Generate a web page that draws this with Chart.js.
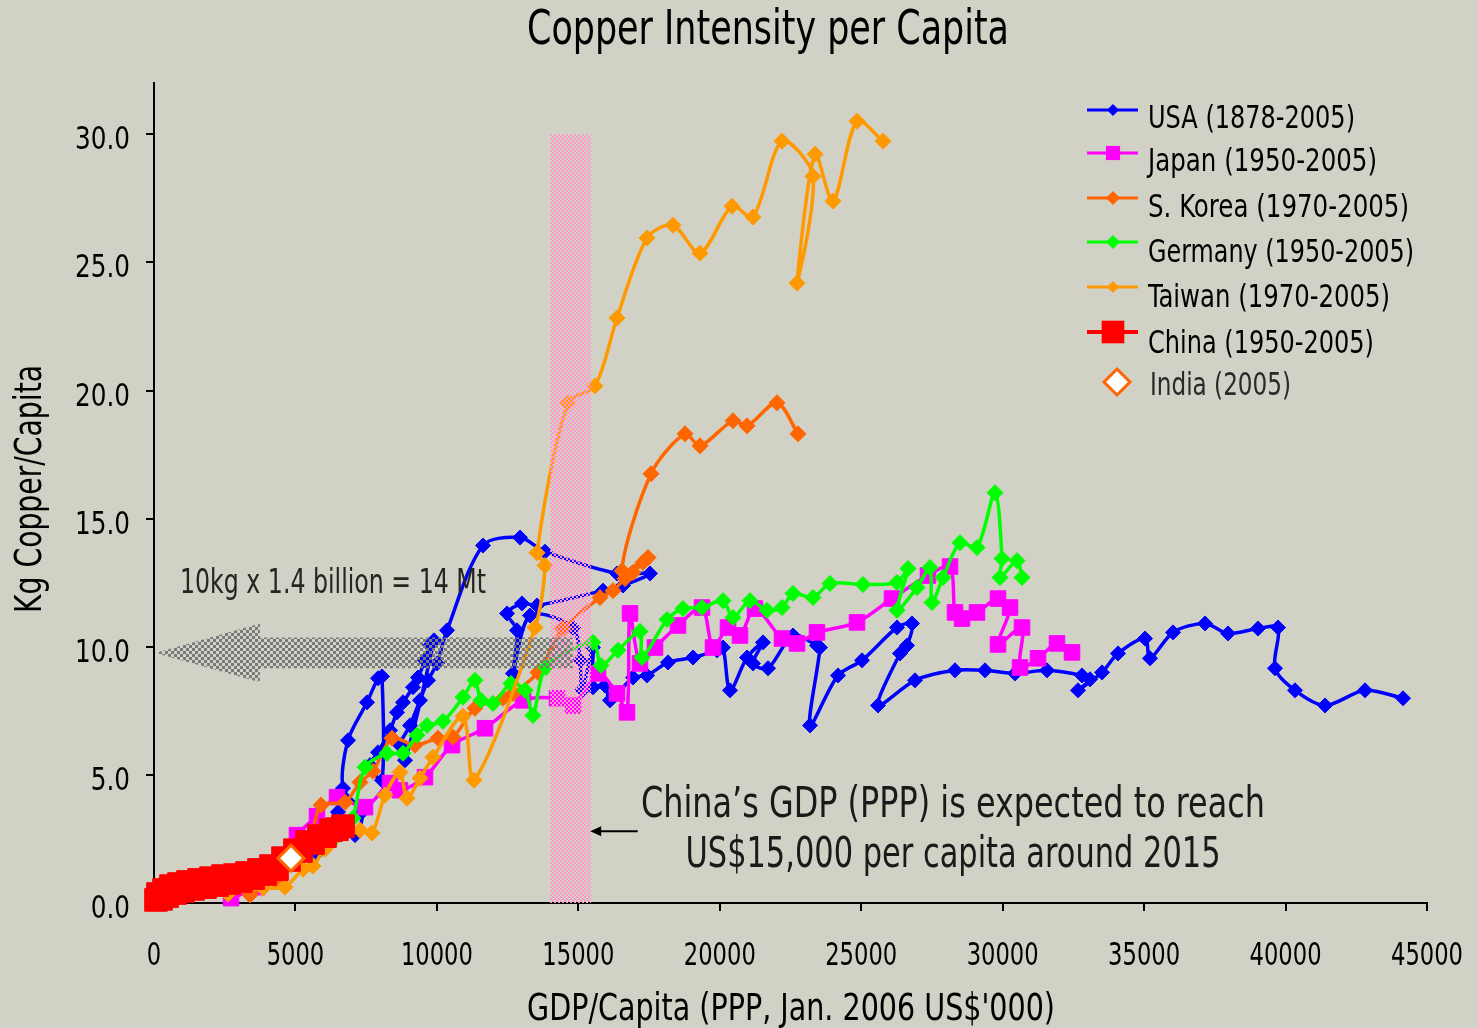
<!DOCTYPE html>
<html><head><meta charset="utf-8">
<script src="https://cdn.jsdelivr.net/npm/chart.js@4.4.1/dist/chart.umd.min.js"></script>
<style>html,body{margin:0;padding:0;background:#D2D1C6;overflow:hidden}canvas{display:block}</style>
</head><body>
<canvas id="c" width="1478" height="1028" style="width:1478px;height:1028px"></canvas>
<script>
// ---------- DATA ----------
const xTicks = [0,5000,10000,15000,20000,25000,30000,35000,40000,45000];
const yTicks = [0,5,10,15,20,25,30];
const seriesNames = ['USA (1878-2005)','Japan (1950-2005)','S. Korea (1970-2005)','Germany (1950-2005)','Taiwan (1970-2005)','China (1950-2005)','India (2005)'];

const usaX = [5762,6504,7105,7353,6681,6858,7530,7918,8060,8060,7636,7918,8343,8590,8802,9156,9332,9580,9757,9898,8873,8696,9050,9403,9686,10004,10358,11630,12938,13822,16367,17534,16579,15872,13539,13009,12479,12832,12691,13292,14812,15059,15130,15519,15519,15943,16120,16933,17428,18170,19054,19902,20114,20362,20963,21528,21175,21705,22589,23437,23543,23190,24179,25028,26265,26795,26618,26371,25593,26901,28315,29376,30436,31568,32805,33088,32663,33512,34077,35032,35209,36022,37153,37966,39026,39733,39627,40334,41395,42809,44152];
const usaY = [1.95,3.55,2.65,3.55,4.48,6.35,7.83,8.77,8.84,4.79,5.38,5.88,6.74,7.44,7.83,8.42,8.80,9.47,10.05,10.25,5.57,6.16,6.93,7.91,8.69,9.35,10.64,13.95,14.26,13.71,12.86,12.86,12.39,12.19,11.61,11.69,11.30,10.64,8.96,11.22,10.75,9.47,8.30,9.97,8.42,8.49,7.91,8.80,8.88,9.39,9.58,9.86,9.97,8.30,9.58,10.17,9.35,9.16,10.44,10.05,9.97,6.93,8.88,9.47,10.75,10.91,10.05,9.74,7.71,8.69,9.08,9.08,8.96,9.08,8.88,8.73,8.30,9.00,9.74,10.32,9.55,10.56,10.91,10.52,10.71,10.75,9.16,8.30,7.71,8.30,7.99];

const japanX = [2722,3641,4454,5055,5762,6469,7459,8343,8696,9580,10534,11701,13044,14246,14812,15695,16367,16721,16827,17180,17710,18523,19372,19761,20291,20715,21245,22200,22730,23437,24851,26088,27361,28139,28315,28563,29093,29835,30260,29835,30684,30613,31249,31921,32451];
const japanY = [0.19,0.62,1.60,2.65,3.39,4.13,3.74,4.68,4.40,4.91,6.16,6.82,7.91,7.99,7.71,8.96,8.18,7.44,11.30,9.35,9.97,10.83,11.53,9.97,10.75,10.44,11.49,10.32,10.13,10.56,10.95,11.88,12.78,13.13,11.34,11.10,11.34,11.88,11.53,10.09,10.75,9.19,9.55,10.13,9.78];

const koreaX = [3394,4277,4984,5515,5903,6752,7282,7742,8413,9226,10039,10570,11347,12337,12691,13574,14458,15766,16226,16650,16933,17286,17463,16544,17569,18771,19301,20468,20963,22023,22765];
const koreaY = [0.31,0.90,1.60,2.45,3.82,3.93,4.71,5.14,6.43,6.16,6.43,6.47,7.60,7.99,8.18,9.00,10.71,11.92,12.19,12.66,12.90,13.29,13.48,12.97,16.75,18.31,17.84,18.82,18.62,19.52,18.31];

const germanyX = [5974,6398,6823,7035,7459,8237,8802,9297,9651,10216,10923,11347,11559,11984,12620,13115,13398,13857,15519,15801,16402,17180,17251,18135,18700,19372,20114,20468,21069,21670,22200,22589,23296,23897,25063,26265,26654,26265,26972,27432,27502,27891,28492,29093,29729,29977,29906,30507,30684];
const germanyY = [2.14,2.53,3.04,3.31,5.30,5.84,5.84,6.55,6.93,7.09,8.03,8.69,7.91,7.79,8.57,8.30,7.32,9.19,10.17,9.27,9.86,10.60,9.58,11.06,11.49,11.53,11.80,11.14,11.80,11.42,11.53,12.08,11.92,12.47,12.43,12.51,13.05,11.42,12.31,13.09,11.73,12.70,14.06,13.87,16.01,13.44,12.70,13.36,12.70];

const taiwanX = [2616,3853,4631,5267,5621,6045,7282,7706,8166,8696,8944,9403,9863,10923,11312,13468,13822,13539,14635,15589,16367,17428,18347,19301,20433,21175,22200,23296,22730,23366,24003,24851,25770];
const taiwanY = [0.35,0.58,0.62,1.32,1.44,2.10,2.84,2.73,4.21,5.10,4.09,4.87,5.69,7.29,4.79,10.75,13.17,13.67,19.52,20.18,22.83,25.95,26.45,25.36,27.19,26.77,29.73,28.36,24.19,29.22,27.39,30.51,29.73];

const chinaX = [71,141,247,354,460,601,742,884,1025,1202,1379,1591,1803,2015,2227,2439,2651,2863,3075,3288,3500,3712,3924,4136,4348,4560,4772,4984,5196,5409,5621,5833,6045,6257,6469,6681];
const chinaY = [0.12,0.35,0.16,0.51,0.27,0.66,0.39,0.74,0.47,0.82,0.55,0.90,0.62,0.97,0.70,1.05,0.78,1.09,0.86,1.17,0.97,1.29,1.13,1.44,1.32,1.75,1.68,2.06,2.03,2.38,2.34,2.61,2.61,2.84,2.88,3.00];

const indiaX = [4843];
const indiaY = [1.75];

// annotation geometry (data units)
const bandX = [14000, 15450];
const bandY = [0, 30];
const arrowTip = [50, 9.76];
const arrowHeadX = 3747;
const arrowHeadY = [8.61, 10.91];
const arrowBodyY = [9.16, 10.36];
const arrowEndX = 14800;
const noteArrow = [17100, 15420, 2.80];

// ---------- FONT ----------
function pickFont(list){
  const c=document.createElement('canvas').getContext('2d');
  const s='abcdefghijklmnopqrstuvwxyzABCDEFG0123456789';
  for(const f of list){
    let ok=true;
    for(const base of ['monospace','serif']){
      c.font='40px '+base; const a=c.measureText(s).width;
      c.font='40px "'+f+'", '+base; const b=c.measureText(s).width;
      if(a===b) ok=false;
    }
    if(ok) return f;
  }
  return 'Liberation Sans';
}
const FAM = pickFont(['Liberation Sans Narrow','Arial Narrow','DejaVu Sans Condensed','Liberation Sans']);
Chart.defaults.font.family = FAM;

const BG = '#D2D1C6';
const COLORS = ['#0000FF','#FF00FF','#FF6600','#00FF00','#FF9900','#FF0000','#FF6600'];

function pts(xs, ys){ const n=Math.min(xs.length, ys.length); const o=[]; for(let i=0;i<n;i++) o.push({x:xs[i], y:ys[i]}); return o; }

function lineSet(label, xs, ys, color, style, r, order){
  return { label, data: pts(xs,ys), showLine:true, borderColor:color, backgroundColor:color,
    borderWidth:3.5, pointStyle:style, pointRadius:r, pointHoverRadius:r, pointBorderWidth:1,
    pointBorderColor:color, pointBackgroundColor:color, tension:0.3, clip:false, order };
}

function drawText(ctx, txt, x, y, size, sx, align, color, rot){
  ctx.save();
  ctx.font = size+'px "'+FAM+'"';
  ctx.translate(x, y);
  if (rot) ctx.rotate(rot);
  ctx.scale(sx, 1);
  ctx.textAlign = align; ctx.textBaseline = 'alphabetic';
  ctx.fillStyle = color;
  ctx.fillText(txt, 0, 0);
  ctx.restore();
}
function textW(ctx, txt, size){ ctx.save(); ctx.font = size+'px "'+FAM+'"'; const w=ctx.measureText(txt).width; ctx.restore(); return w; }
function fitText(ctx, txt, x, y, size, width, align, color, rot){
  const w = textW(ctx, txt, size);
  drawText(ctx, txt, x, y, size, width ? width/w : 1, align, color, rot);
}

function checker(ctx, color, cell){
  const c=document.createElement('canvas'); c.width=c.height=cell*2;
  const g=c.getContext('2d'); g.fillStyle=color;
  g.fillRect(0,0,cell,cell); g.fillRect(cell,cell,cell,cell);
  return ctx.createPattern(c,'repeat');
}

function marker(ctx, style, x, y, r, fill, stroke, lw){
  ctx.beginPath();
  if(style==='rect'){ const s=r*Math.SQRT1_2; ctx.rect(x-s,y-s,2*s,2*s); }
  else { ctx.moveTo(x,y-r); ctx.lineTo(x+r,y); ctx.lineTo(x,y+r); ctx.lineTo(x-r,y); ctx.closePath(); }
  ctx.fillStyle=fill; ctx.fill();
  if(lw){ ctx.lineWidth=lw; ctx.strokeStyle=stroke; ctx.stroke(); }
}

const bgPlugin = { id:'bg', beforeDraw(chart){ const c=chart.ctx; c.save(); c.fillStyle=BG; c.fillRect(0,0,chart.width,chart.height); c.restore(); } };

const overlayPlugin = { id:'overlay', afterDatasetsDraw(chart){
  const c=chart.ctx, xs=chart.scales.x, ys=chart.scales.y;
  const X=v=>xs.getPixelForValue(v), Y=v=>ys.getPixelForValue(v);
  c.save();
  c.fillStyle = checker(c, '#FF99CC', 2);
  c.fillRect(X(bandX[0]), Y(bandY[1]), X(bandX[1])-X(bandX[0]), Y(bandY[0])-Y(bandY[1]));
  c.fillStyle = checker(c, '#7A7A7A', 3);
  c.beginPath();
  c.moveTo(X(arrowTip[0]), Y(arrowTip[1]));
  c.lineTo(X(arrowHeadX), Y(arrowHeadY[1]));
  c.lineTo(X(arrowHeadX), Y(arrowBodyY[1]));
  c.lineTo(X(arrowEndX), Y(arrowBodyY[1]));
  c.lineTo(X(arrowEndX), Y(arrowBodyY[0]));
  c.lineTo(X(arrowHeadX), Y(arrowBodyY[0]));
  c.lineTo(X(arrowHeadX), Y(arrowHeadY[0]));
  c.closePath(); c.fill();
  const ax0=X(noteArrow[0]), ax1=X(noteArrow[1]), ay=Y(noteArrow[2]);
  c.strokeStyle='#000'; c.lineWidth=2;
  c.beginPath(); c.moveTo(ax0,ay); c.lineTo(ax1+8,ay); c.stroke();
  c.fillStyle='#000'; c.beginPath(); c.moveTo(ax1,ay); c.lineTo(ax1+11,ay-5); c.lineTo(ax1+11,ay+5); c.closePath(); c.fill();
  c.restore();
}};

const textPlugin = { id:'texts', afterDraw(chart){
  const c=chart.ctx, xs=chart.scales.x, ys=chart.scales.y;
  const K = 72 / textW(c, '45000', 32);
  xTicks.forEach(v => drawText(c, String(v), xs.getPixelForValue(v), 965, 32, K, 'center', '#000'));
  const KY = 55 / textW(c, '30.0', 32);
  yTicks.forEach(v => drawText(c, v.toFixed(1), 130, ys.getPixelForValue(v) + 15, 32, KY, 'right', '#000'));
  fitText(c, 'Copper Intensity per Capita', 768, 44, 48, 482, 'center', '#000');
  fitText(c, 'GDP/Capita (PPP, Jan. 2006 US$\'000)', 791, 1020, 37, 528, 'center', '#000');
  fitText(c, 'Kg Copper/Capita', 41, 489, 37, 248, 'center', '#000', -Math.PI/2);
  fitText(c, '10kg x 1.4 billion = 14 Mt', 180, 593, 33, 306, 'left', '#262620');
  fitText(c, 'China\u2019s GDP (PPP) is expected to reach', 953, 817, 42, 624, 'center', '#1a1a1a');
  fitText(c, 'US$15,000 per capita around 2015', 953, 867, 42, 535, 'center', '#1a1a1a');
  const lineY=[110,153,198,242,287,332];
  const textY=[128,171,217,262,307,353,395];
  const widths=[207,229,261,266,242,226,141];
  const styles=['rectRot','rect','rectRot','rectRot','rectRot','rect'];
  const radii=[6,10,7,7,6,16];
  for(let i=0;i<6;i++){
    c.save();
    c.strokeStyle=COLORS[i]; c.lineWidth = i===5?4:3;
    c.beginPath(); c.moveTo(1087,lineY[i]); c.lineTo(1138,lineY[i]); c.stroke();
    marker(c, styles[i], 1113, lineY[i], radii[i], COLORS[i]);
    c.restore();
    fitText(c, seriesNames[i], 1148, textY[i], 32, widths[i], 'left', '#000');
  }
  c.save(); marker(c,'rectRot',1117,382,13,'#FFFFFF','#FF6600',3); c.restore();
  fitText(c, seriesNames[6], 1150, textY[6], 32, widths[6], 'left', '#2a2a2a');
}};

const ctx = document.getElementById('c').getContext('2d');
new Chart(ctx, {
  type:'scatter',
  data:{ datasets:[
    lineSet(seriesNames[0], usaX, usaY, COLORS[0], 'rectRot', 7.5, 7),
    lineSet(seriesNames[1], japanX, japanY, COLORS[1], 'rect', 11, 6),
    lineSet(seriesNames[2], koreaX, koreaY, COLORS[2], 'rectRot', 8, 5),
    lineSet(seriesNames[3], germanyX, germanyY, COLORS[3], 'rectRot', 8, 4),
    lineSet(seriesNames[4], taiwanX, taiwanY, COLORS[4], 'rectRot', 8, 3),
    lineSet(seriesNames[5], chinaX, chinaY, COLORS[5], 'rect', 16, 2),
    { label: seriesNames[6], data: pts(indiaX, indiaY), showLine:false, pointStyle:'rectRot', pointRadius:13,
      pointBackgroundColor:'#FFFFFF', pointBorderColor:'#FF6600', pointBorderWidth:3, clip:false, order:1 }
  ]},
  options:{
    responsive:false, animation:false, devicePixelRatio:1,
    layout:{ padding:{ top:83, right:51, left:0, bottom:0 } },
    plugins:{ legend:{display:false}, title:{display:false}, tooltip:{enabled:false} },
    scales:{
      x:{ type:'linear', min:0, max:45000,
        afterBuildTicks: s => { s.ticks = xTicks.map(v=>({value:v})); },
        afterFit: s => { s.height = 1028-903; s.paddingLeft = 0; s.paddingRight = 0; },
        ticks:{ display:false },
        grid:{ display:true, drawOnChartArea:false, drawTicks:true, tickLength:8, color:'#000', lineWidth:2 },
        border:{ display:true, color:'#000', width:2 } },
      y:{ type:'linear', min:0, max:32,
        afterBuildTicks: s => { s.ticks = yTicks.map(v=>({value:v})); },
        afterFit: s => { s.width = 154; s.paddingTop = 0; s.paddingBottom = 0; },
        ticks:{ display:false },
        grid:{ display:true, drawOnChartArea:false, drawTicks:true, tickLength:8, color:'#000', lineWidth:2 },
        border:{ display:true, color:'#000', width:2 } }
    }
  },
  plugins:[bgPlugin, overlayPlugin, textPlugin]
});
</script>
</body></html>
